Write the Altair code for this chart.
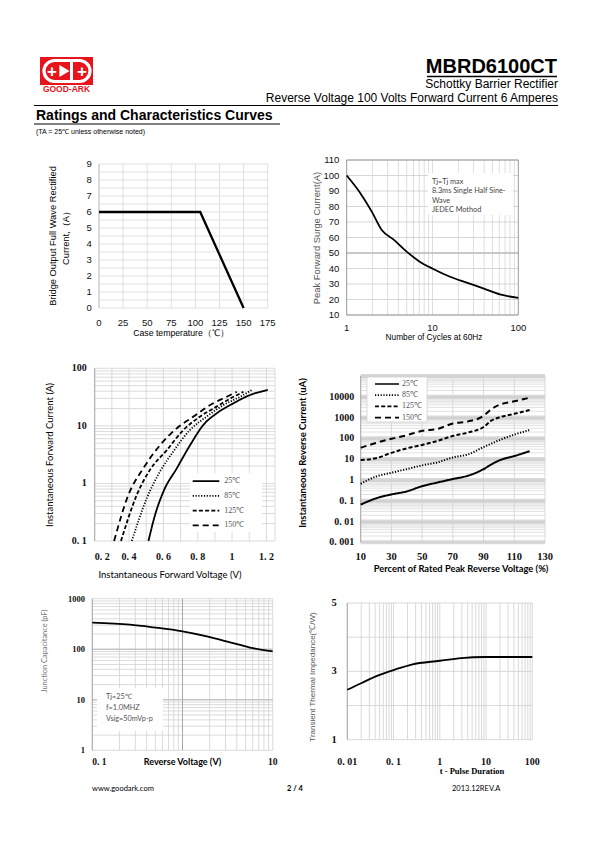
import altair as alt
import pandas as pd

OX, OY = 8, 8          # page margin
W, H = 579, 826        # drawing area

SANS = "Liberation Sans"
SERIF = "Liberation Serif"
CAL = "Lato"
GRID = "#d2d2d2"

# ---------------- data ----------------
# Fig.1 forward current derating
derate_temp = [0, 105, 150]
derate_amps = [6, 6, 0]

# Fig.2 peak forward surge current
surge_cycles = [1, 1.43, 1.96, 2.56, 3.5, 5.0, 7.1, 10.2, 16, 25, 39, 61, 100]
surge_amps = [100, 88.9, 76.7, 64.8, 58.8, 50.9, 44.4, 39.7, 34.7, 30.9, 27.2, 23.3, 21]

# Fig.3 forward characteristics
temps = ["25℃", "85℃", "125℃", "150℃"]
vf_25 = [0.513, 0.551, 0.60, 0.678, 0.755, 0.833, 0.91, 1.008, 1.105, 1.208]
if_25 = [0.1, 0.28, 0.72, 1.83, 4.6, 10.4, 16.5, 24.7, 34.4, 42]
vf_85 = [0.416, 0.503, 0.58, 0.658, 0.755, 0.852, 0.95, 1.047, 1.115]
if_85 = [0.1, 0.55, 1.6, 3.6, 8.5, 14.5, 23, 32, 42]
vf_125 = [0.353, 0.445, 0.522, 0.62, 0.717, 0.814, 0.91, 1.008, 1.066]
if_125 = [0.1, 0.63, 1.72, 3.8, 8.5, 14.5, 21.6, 32, 39]
vf_150 = [0.313, 0.396, 0.483, 0.58, 0.678, 0.775, 0.872, 0.969, 1.027]
if_150 = [0.1, 0.63, 1.83, 4.6, 9.1, 14.5, 23, 32, 39]

# Fig.4 reverse characteristics
vr_pct = [10, 20, 30, 40, 50, 60, 70, 80, 90, 95, 100, 110, 120]
ir_25 = [0.065, 0.13, 0.2, 0.28, 0.5, 0.75, 1.1, 1.6, 3.3, 5.5, 8.5, 14, 24]
ir_85 = [0.65, 1.45, 2.2, 3.3, 5, 7, 12, 17, 38, 55, 80, 150, 250]
ir_125 = [9, 11, 20, 33, 48, 75, 130, 190, 350, 700, 1000, 1500, 2300]
ir_150 = [35, 60, 95, 140, 230, 280, 520, 650, 1200, 2500, 4000, 6000, 9000]

# Fig.5 junction capacitance
cap_v = [0.1, 0.262, 0.475, 1.0, 1.86, 3.37, 5.6, 10]
cap_pf = [335, 306, 271, 226, 180, 137, 108, 91]

# Fig.6 transient thermal impedance
zth_t = [0.01, 0.0204, 0.0468, 0.107, 0.246, 1.0, 2.9, 9.4, 100]
zth_val = [2.46, 2.66, 2.88, 3.05, 3.2, 3.31, 3.39, 3.42, 3.42]

# tick values and tick labels
p1_xticks = [0, 25, 50, 75, 100, 125, 150, 175]
p1_xlabels = ["0", "25", "50", "75", "100", "125", "150", "175"]
p1_yticks = [0, 1, 2, 3, 4, 5, 6, 7, 8, 9]
p1_ylabels = ["0", "1", "2", "3", "4", "5", "6", "7", "8", "9"]
p2_xticks = [1, 10, 100]
p2_xlabels = ["1", "10", "100"]
p2_yticks = [10, 20, 30, 40, 50, 60, 70, 80, 90, 100, 110]
p2_ylabels = ["10", "20", "30", "40", "50", "60", "70", "80", "90", "100", "110"]
p3_xticks = [0.2, 0.4, 0.6, 0.8, 1.0, 1.2]
p3_xlabels = ["0. 2", "0. 4", "0. 6", "0. 8", "1", "1. 2"]
p3_yticks = [0.1, 1, 10, 100]
p3_ylabels = ["0. 1", "1", "10", "100"]
p4_xticks = [10, 30, 50, 70, 90, 110, 130]
p4_xlabels = ["10", "30", "50", "70", "90", "110", "130"]
p4_yticks = [0.001, 0.01, 0.1, 1, 10, 100, 1000, 10000]
p4_ylabels = ["0. 001", "0. 01", "0. 1", "1", "10", "100", "1000", "10000"]
p5_xticks = [0.1, 10]
p5_xlabels = ["0. 1", "10"]
p5_yticks = [1, 10, 100, 1000]
p5_ylabels = ["1", "10", "100", "1000"]
p6_xticks = [0.01, 0.1, 1, 10, 100]
p6_xlabels = ["0. 01", "0. 1", "1", "10", "100"]
p6_yticks = [1, 3, 5]
p6_ylabels = ["1", "3", "5"]

# grid positions
p1_ygrid = [i * 0.5 for i in range(19)]
p2_xgrid = [2, 3, 4, 5, 6, 7, 8, 9, 10, 20, 30, 40, 50, 60, 70, 80, 90]
p3_xgrid = [0.2, 0.3, 0.4, 0.5, 0.6, 0.7, 0.8, 0.9, 1.0, 1.1, 1.2, 1.25]
p6_ygrid = [1, 2, 3, 4, 5]


def log_minor(lo_exp, hi_exp):
    vals = []
    for e in range(lo_exp, hi_exp):
        for m in range(1, 10):
            vals.append(round(m * 10.0 ** e, 10))
    vals.append(round(10.0 ** hi_exp, 10))
    return vals


def rx(X):
    return X - OX


def ry(Y):
    return Y - OY


def vrules(values, xs, ys, ydom, color=GRID, width=0.8):
    return alt.Chart(pd.DataFrame({"v": values})).mark_rule(color=color, strokeWidth=width).encode(
        x=alt.X("v:Q", scale=xs, axis=None),
        y=alt.YDatum(ydom[0], type="quantitative", scale=ys, axis=None),
        y2=alt.Y2Datum(ydom[1]),
    )


def hrules(values, xs, ys, xdom, color=GRID, width=0.8):
    return alt.Chart(pd.DataFrame({"v": values})).mark_rule(color=color, strokeWidth=width).encode(
        y=alt.Y("v:Q", scale=ys, axis=None),
        x=alt.XDatum(xdom[0], type="quantitative", scale=xs, axis=None),
        x2=alt.X2Datum(xdom[1]),
    )


def xlab(values, texts, xs, ys, y_at, dy, size=10, font=SERIF, weight="bold", align="center",
         color="#111"):
    return alt.Chart(pd.DataFrame({"v": values, "t": texts})).mark_text(
        align=align, baseline="middle", dy=dy, font=font, fontSize=size, fontWeight=weight,
        color=color).encode(
        x=alt.X("v:Q", scale=xs, axis=None),
        y=alt.YDatum(y_at, type="quantitative", scale=ys, axis=None),
        text="t:N")


def ylab(values, texts, xs, ys, x_at, dx, size=10, font=SERIF, weight="bold", color="#111"):
    return alt.Chart(pd.DataFrame({"v": values, "t": texts})).mark_text(
        align="right", baseline="middle", dx=dx, font=font, fontSize=size, fontWeight=weight,
        color=color).encode(
        y=alt.Y("v:Q", scale=ys, axis=None),
        x=alt.XDatum(x_at, type="quantitative", scale=xs, axis=None),
        text="t:N")


def txt(s, x, y, size, font=SANS, weight="normal", align="left", color="black",
        baseline="alphabetic", angle=0):
    return alt.Chart(pd.DataFrame({"t": [s]})).mark_text(
        align=align, baseline=baseline, font=font, fontSize=size, fontWeight=weight, color=color,
        angle=angle).encode(x=alt.value(rx(x)), y=alt.value(ry(y)), text="t:N")


def note(lines, xs_, ys_, xs, ys, size=7, color="#444", font=CAL):
    return alt.Chart(pd.DataFrame({"x": xs_, "y": ys_, "t": lines})).mark_text(
        align="left", baseline="middle", font=font, fontSize=size, color=color).encode(
        x=alt.X("x:Q", scale=xs, axis=None), y=alt.Y("y:Q", scale=ys, axis=None), text="t:N")


def whitebox(x0, x1, y0, y1, xs, ys, stroke=None):
    mk = dict(fill="white")
    if stroke:
        mk.update(stroke=stroke, strokeWidth=0.8)
    return alt.Chart(pd.DataFrame({"x": [x0], "x2": [x1], "y": [y0], "y2": [y1]})).mark_rect(
        **mk).encode(x=alt.X("x:Q", scale=xs, axis=None), x2="x2:Q",
                     y=alt.Y("y:Q", scale=ys, axis=None), y2="y2:Q")


def dash_legend(lx, ly, size, path, rowpad, label_offset=4):
    return alt.Legend(orient="none", legendX=rx(lx), legendY=ry(ly), title=None, padding=0,
                      symbolType=path, symbolSize=size, symbolStrokeWidth=1.7,
                      symbolStrokeColor="black", symbolFillColor="transparent",
                      labelFont=SERIF, labelFontSize=8, labelColor="#555", labelOffset=label_offset,
                      rowPadding=rowpad)


# ---------------- Fig.1 ----------------
xs1 = alt.Scale(domain=[0, 175], range=[rx(99), rx(267.7)], nice=False, zero=False)
ys1 = alt.Scale(domain=[0, 9], range=[ry(308), ry(164)], nice=False, zero=False)
df1 = pd.DataFrame({"t": derate_temp, "a": derate_amps})
p1 = alt.layer(
    vrules(p1_xticks, xs1, ys1, [0, 9], color="#d9d9d9"),
    hrules(p1_ygrid, xs1, ys1, [0, 175], color="#d9d9d9"),
    vrules([0], xs1, ys1, [0, 9], color="#b5b5b5"),
    xlab(p1_xticks, p1_xlabels, xs1, ys1, 0, 15.3, size=9.5, font=SANS, weight="normal"),
    ylab(p1_yticks, p1_ylabels, xs1, ys1, 0, -7.3, size=9.5, font=SANS, weight="normal"),
    alt.Chart(df1).mark_line(color="black", strokeWidth=2.3).encode(
        x=alt.X("t:Q", scale=xs1, axis=None), y=alt.Y("a:Q", scale=ys1, axis=None)),
)
p1_titles = [
    txt("Case temperature（℃）", 181, 333.3, 8.7, align="center", baseline="middle"),
    txt("Bridge Output Full Wave Rectified", 53, 236, 9.3, align="center", baseline="middle", angle=270),
    txt("Current,（A）", 65.5, 236, 9.3, align="center", baseline="middle", angle=270),
]

# ---------------- Fig.2 ----------------
xs2 = alt.Scale(type="log", domain=[1, 100], range=[rx(346.7), rx(518.3)], nice=False)
ys2 = alt.Scale(domain=[10, 110], range=[ry(315), ry(160)], nice=False, zero=False)
df2 = pd.DataFrame({"n": surge_cycles, "a": surge_amps})
p2 = alt.layer(
    vrules(p2_xgrid, xs2, ys2, [10, 110], color="#d6d6d6"),
    hrules(p2_yticks, xs2, ys2, [1, 100], color="#cccccc"),
    hrules([50], xs2, ys2, [1, 100], color="#bdbdbd", width=1.6),
    vrules([1, 100], xs2, ys2, [10, 110], color="#999999", width=1),
    hrules([10, 110], xs2, ys2, [1, 100], color="#999999", width=1),
    whitebox(8.87, 86.7, 101.6, 74.5, xs2, ys2),
    note(["Tj=Tj max", "8.3ms Single Half Sine-", "Wave", "JEDEC Mothod"],
         [9.85] * 4, [95.6, 89.7, 83.7, 77.8], xs2, ys2, size=7.3),
    xlab(p2_xticks, p2_xlabels, xs2, ys2, 10, 13.3, size=9.5, font=SANS, weight="normal"),
    ylab(p2_yticks, p2_ylabels, xs2, ys2, 1, -7.4, size=9.5, font=SANS, weight="normal"),
    alt.Chart(df2).mark_line(color="black", strokeWidth=1.8, interpolate="monotone").encode(
        x=alt.X("n:Q", scale=xs2, axis=None), y=alt.Y("a:Q", scale=ys2, axis=None)),
)
p2_titles = [
    txt("Number of Cycles at 60Hz", 434, 338.3, 8.3, align="center", baseline="middle"),
    txt("Peak Forward Surge Current(A)", 317, 238, 9.4, color="#555", align="center",
        baseline="middle", angle=270),
]

# ---------------- Fig.3 ----------------
xs3 = alt.Scale(domain=[0.2, 1.25], range=[rx(94.7), rx(275)], nice=False, zero=False)
ys3 = alt.Scale(type="log", domain=[0.1, 100], range=[ry(541), ry(368.3)], nice=False)
df3 = pd.concat([
    pd.DataFrame({"v": vf_25, "i": if_25, "temp": temps[0]}),
    pd.DataFrame({"v": vf_85, "i": if_85, "temp": temps[1]}),
    pd.DataFrame({"v": vf_125, "i": if_125, "temp": temps[2]}),
    pd.DataFrame({"v": vf_150, "i": if_150, "temp": temps[3]}),
])
dash_range = [[1, 0], [1.2, 1.6], [4, 2.2], [6, 4]]
legend3 = dash_legend(211.3, 476.7, 49, "M-6.6,0H1", 5.7)
p3 = alt.layer(
    vrules(p3_xgrid, xs3, ys3, [0.1, 100]),
    hrules(log_minor(-1, 2), xs3, ys3, [0.2, 1.25]),
    vrules([0.2], xs3, ys3, [0.1, 100], color="#999999"),
    whitebox(0.7554, 1.175, 1.52, 0.143, xs3, ys3),
    xlab(p3_xticks[:1], p3_xlabels[:1], xs3, ys3, 0.1, 15.7, align="left"),
    xlab(p3_xticks[1:], p3_xlabels[1:], xs3, ys3, 0.1, 15.7),
    ylab(p3_yticks, p3_ylabels, xs3, ys3, 0.2, -8),
    alt.Chart(df3).mark_line(color="black", strokeWidth=1.8, interpolate="monotone").encode(
        x=alt.X("v:Q", scale=xs3, axis=None),
        y=alt.Y("i:Q", scale=ys3, axis=None),
        strokeDash=alt.StrokeDash("temp:N", scale=alt.Scale(domain=temps, range=dash_range),
                                  legend=legend3),
        detail="temp:N",
    ),
)
p3_titles = [
    txt("Instantaneous Forward Voltage (V)", 170, 575, 9.5, font=CAL, align="center", baseline="middle"),
    txt("Instantaneous Forward Current (A)", 50, 455, 9.5, font=CAL, align="center",
        baseline="middle", angle=270),
]

# ---------------- Fig.4 ----------------
xs4 = alt.Scale(domain=[10, 130], range=[rx(360.7), rx(545)], nice=False, zero=False)
ys4 = alt.Scale(type="log", domain=[0.001, 100000], range=[ry(542.3), ry(375.9)], nice=False)
df4 = pd.concat([
    pd.DataFrame({"p": vr_pct, "i": ir_25, "temp": temps[0]}),
    pd.DataFrame({"p": vr_pct, "i": ir_85, "temp": temps[1]}),
    pd.DataFrame({"p": vr_pct, "i": ir_125, "temp": temps[2]}),
    pd.DataFrame({"p": vr_pct, "i": ir_150, "temp": temps[3]}),
])
legend4 = dash_legend(392, 380, 36, "M-7,0H1", 3.2, label_offset=2)
p4 = alt.layer(
    hrules(p4_yticks + [100000], xs4, ys4, [10, 130], color="#d9d9d9", width=4),
    hrules(log_minor(-3, 5), xs4, ys4, [10, 130], color="#cdcdcd", width=0.6),
    vrules(p4_xticks, xs4, ys4, [0.001, 100000]),
    vrules([10], xs4, ys4, [0.001, 100000], color="#999999"),
    whitebox(14.1, 53.2, 88500, 608, xs4, ys4, stroke="#d0d0d0"),
    xlab(p4_xticks, p4_xlabels, xs4, ys4, 0.001, 14.2, size=10.5),
    ylab(p4_yticks, p4_ylabels, xs4, ys4, 10, -6.4),
    alt.Chart(df4).mark_line(color="black", strokeWidth=2, interpolate="monotone").encode(
        x=alt.X("p:Q", scale=xs4, axis=None),
        y=alt.Y("i:Q", scale=ys4, axis=None),
        strokeDash=alt.StrokeDash("temp:N", scale=alt.Scale(domain=temps, range=dash_range),
                                  legend=legend4),
        detail="temp:N",
    ),
)
p4_titles = [
    txt("Percent of Rated Peak Reverse Voltage (%)", 461, 568.5, 9.3, font=CAL, weight="bold",
        align="center", baseline="middle"),
    txt("Instantaneous Reverse Current (uA)", 303, 453, 9.5, font=CAL, weight="bold", align="center",
        baseline="middle", angle=270),
]

# ---------------- Fig.5 ----------------
xs5 = alt.Scale(type="log", domain=[0.1, 10], range=[rx(92.3), rx(272.7)], nice=False)
ys5 = alt.Scale(type="log", domain=[1, 1000], range=[ry(750.3), ry(598.7)], nice=False)
df5 = pd.DataFrame({"v": cap_v, "c": cap_pf})
p5 = alt.layer(
    vrules(log_minor(-1, 1), xs5, ys5, [1, 1000]),
    hrules(log_minor(0, 3), xs5, ys5, [0.1, 10]),
    vrules([1], xs5, ys5, [1, 1000], color="#a8a8a8", width=1),
    hrules([10, 100], xs5, ys5, [0.1, 10], color="#b8b8b8", width=1),
    vrules([0.1], xs5, ys5, [1, 1000], color="#999999"),
    whitebox(0.1127, 0.607, 17.1, 2.41, xs5, ys5),
    note(["Tj=25℃", "f=1.0MHZ", "Vsig=50mVp-p"], [0.1418] * 3, [11.35, 6.87, 4.16], xs5, ys5,
         size=7.3, color="#555"),
    xlab(p5_xticks[:1], p5_xlabels[:1], xs5, ys5, 1, 11.7, size=9.5, align="left"),
    xlab(p5_xticks[1:], p5_xlabels[1:], xs5, ys5, 1, 11.7, size=9.5),
    ylab(p5_yticks, p5_ylabels, xs5, ys5, 0.1, -7.3, size=8.5),
    alt.Chart(df5).mark_line(color="black", strokeWidth=1.8, interpolate="monotone").encode(
        x=alt.X("v:Q", scale=xs5, axis=None), y=alt.Y("c:Q", scale=ys5, axis=None)),
)
p5_titles = [
    txt("Reverse Voltage (V)", 182.5, 762, 9, font=CAL, weight="bold", align="center", baseline="middle"),
    txt("Junction Capacitance (pF)", 45, 651, 7.4, font=CAL, color="#777", align="center",
        baseline="middle", angle=270),
]

# ---------------- Fig.6 ----------------
xs6 = alt.Scale(type="log", domain=[0.01, 100], range=[rx(347.3), rx(532.3)], nice=False)
ys6 = alt.Scale(domain=[1, 5], range=[ry(739.7), ry(603)], nice=False, zero=False)
df6 = pd.DataFrame({"t": zth_t, "z": zth_val})
p6 = alt.layer(
    vrules(log_minor(-2, 2), xs6, ys6, [1, 5], color="#cfcfcf"),
    hrules(p6_ygrid, xs6, ys6, [0.01, 100], color="#cfcfcf"),
    vrules([0.01], xs6, ys6, [1, 5], color="#999999"),
    xlab(p6_xticks, p6_xlabels, xs6, ys6, 1, 22.3),
    ylab(p6_yticks, p6_ylabels, xs6, ys6, 0.01, -10.6, size=10.5),
    alt.Chart(df6).mark_line(color="black", strokeWidth=1.8, interpolate="monotone").encode(
        x=alt.X("t:Q", scale=xs6, axis=None), y=alt.Y("z:Q", scale=ys6, axis=None)),
)
p6_titles = [
    txt("t - Pulse Duration", 472, 771, 8.5, font=SERIF, weight="bold", align="center",
        baseline="middle"),
    txt("Transient Thermal Impedance(℃/W)", 313, 677, 8, color="#555", align="center",
        baseline="middle", angle=270),
]


# ---------------- header / footer ----------------
def hline(x0, x1, y, w, color="black"):
    return alt.Chart(pd.DataFrame({"a": [0]})).mark_rule(color=color, strokeWidth=w).encode(
        x=alt.value(rx(x0)), x2=alt.value(rx(x1)), y=alt.value(ry(y)))


RED = "#E8141B"
logo_box = alt.Chart(pd.DataFrame({"a": [0]})).mark_rect(color=RED).encode(
    x=alt.value(rx(40)), x2=alt.value(rx(93)), y=alt.value(ry(57)), y2=alt.value(ry(85)))
logo_ring = alt.Chart(pd.DataFrame({"a": [0]})).mark_rect(
    fill=RED, stroke="white", strokeWidth=3.2, cornerRadius=11).encode(
    x=alt.value(rx(44)), x2=alt.value(rx(90)), y=alt.value(ry(60.5)), y2=alt.value(ry(81.5)))
logo_tri = alt.Chart(pd.DataFrame({"a": [0]})).mark_point(
    shape="triangle-right", filled=True, color="white", opacity=1, size=140).encode(
    x=alt.value(rx(64.5)), y=alt.value(ry(71)))
logo_bar = alt.Chart(pd.DataFrame({"a": [0]})).mark_rule(color="white", strokeWidth=3).encode(
    x=alt.value(rx(71.5)), y=alt.value(ry(61)), y2=alt.value(ry(81)))

header = [
    logo_box, logo_ring, logo_tri, logo_bar,
    txt("+", 52, 76.5, 17, weight="bold", align="center", color="white"),
    txt("+", 82, 76.5, 17, weight="bold", align="center", color="white"),
    txt("GOOD-ARK", 66.5, 92, 8.5, weight="bold", align="center", color=RED),
    txt("MBRD6100CT", 557, 73, 20, weight="bold", align="right"),
    hline(427, 557, 76.5, 1.6),
    txt("Schottky Barrier Rectifier", 558, 88, 12, align="right"),
    txt("Reverse Voltage 100 Volts Forward Current 6 Amperes", 558, 102, 12, align="right"),
    hline(34, 558, 105.5, 1),
    txt("Ratings and Characteristics Curves", 36, 120, 14, weight="bold"),
    hline(34, 280, 124, 1),
    txt("(TA = 25℃  unless otherwise noted)", 36, 133.5, 7),
]
footer = [
    txt("www.goodark.com", 92, 791, 7.5, font=CAL),
    txt("2 / 4", 295, 791, 7.5, font=CAL, weight="bold", align="center"),
    txt("2013.12REV.A", 452, 791, 7.5, font=CAL),
]

titles = p1_titles + p2_titles + p3_titles + p4_titles + p5_titles + p6_titles

chart = alt.layer(*header, p1, p2, p3, p4, p5, p6, *titles, *footer).resolve_scale(
    x="independent", y="independent", strokeDash="independent"
).resolve_legend(
    strokeDash="independent"
).properties(
    width=W, height=H, padding=0, background="white",
    autosize=alt.AutoSizeParams(type="none"),
).configure_view(stroke=None)

chart.save("out.html", embed_options={"renderer": "svg", "actions": False})
